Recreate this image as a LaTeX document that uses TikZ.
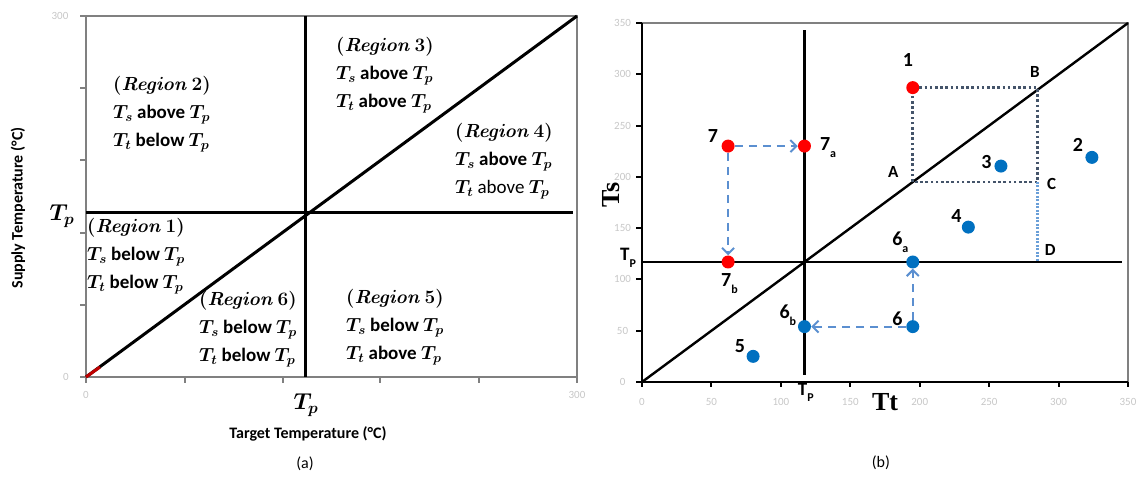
\documentclass[tikz,border=0pt]{standalone}
\usepackage{fix-cm}
\usepackage[no-math]{fontspec}
\setmainfont{Carlito}
\newfontfamily\serifbold{Liberation Serif}
\usetikzlibrary{arrows.meta}
\definecolor{dotblue}{HTML}{0070C0}
\definecolor{dotred}{HTML}{FF0000}
\definecolor{dashblue}{HTML}{5B8FD0}
\definecolor{slateblue}{HTML}{44546A}
\definecolor{lightblue}{HTML}{6A9FD8}
\newcommand\lowsub[1]{\raisebox{-0.35em}{\fontsize{12}{12}\selectfont #1}}
\tikzset{
  frameline/.style={draw=black!50, line width=1.2pt},
  mainline/.style={draw=black, line width=3pt},
  mainlineb/.style={draw=black, line width=2.4pt},
  region/.style={align=left, anchor=west, inner sep=0pt, font=\fontsize{19}{28}\selectfont\bfseries\boldmath},
  bigtp/.style={inner sep=0pt, font=\fontsize{23}{23}\selectfont\boldmath},
  axlabel/.style={inner sep=0pt, font=\fontsize{16}{16}\selectfont\bfseries},
  ticklabel/.style={inner sep=0pt, text=black!22, font=\fontsize{11}{11}\selectfont},
  caption/.style={inner sep=0pt, font=\fontsize{16}{16}\selectfont},
  bluedot/.style={circle, fill=dotblue, inner sep=0pt, minimum size=13pt},
  reddot/.style={circle, fill=dotred, inner sep=0pt, minimum size=13pt},
  ptlabel/.style={inner sep=0pt, font=\fontsize{20}{20}\selectfont\bfseries},
  letlabel/.style={inner sep=0pt, font=\fontsize{17}{17}\selectfont\bfseries},
  dasharrow/.style={draw=dashblue, line width=2pt, dash pattern=on 8pt off 6pt, -{Straight Barb[length=6pt,width=12pt,line width=2pt]}},
  dotbox/.style={draw=slateblue, line width=2.6pt, dash pattern=on 2.6pt off 2.6pt},
  dotlight/.style={draw=lightblue, line width=2.6pt, dash pattern=on 2pt off 1.5pt},
  bigserif/.style={inner sep=0pt, font=\fontsize{26}{26}\selectfont\serifbold\bfseries}
}
\begin{document}
\begin{tikzpicture}[x=1pt,y=-1pt]
\useasboundingbox (0,0) rectangle (1145,478);
% ================= panel (a) =================
\draw[frameline] (86,16) rectangle (577,377);
\foreach \yy in {16,88,160,233,305,377} \draw[frameline] (80,\yy) -- (86,\yy);
\foreach \xx in {86,185,283,380,479,577} \draw[frameline] (\xx,377) -- (\xx,383);
\node[ticklabel] (ay300) at (60,16) {300};
\node[ticklabel] (ay0) at (66,377) {0};
\node[ticklabel] (ax0) at (86,395) {0};
\node[ticklabel] (ax300) at (577,395) {300};
\coordinate (a0) at (86,377);
\coordinate (a1) at (577,16);
\coordinate (ared) at (100,367);
\coordinate (hL) at (86,213);
\coordinate (hR) at (573,213);
\coordinate (vT) at (305,16);
\coordinate (vB) at (305,377);
\draw[mainline] (hL) -- (hR);
\draw[mainline] (vT) -- (vB);
\draw[mainline] (a0) -- (a1);
\draw[draw=red!75!black, line width=3pt] (a0) -- (ared);
\node[region] (r2) at (113,114) {$(\mathit{Region}\,2)$\\$T_s$ above $T_p$\\$T_t$ below $T_p$};
\node[region] (r3) at (336,75) {$(\mathit{Region}\,3)$\\$T_s$ above $T_p$\\$T_t$ above $T_p$};
\node[region] (r4) at (455,161) {$(\mathit{Region}\,4)$\\$T_s$ above $T_p$\\$T_t$ {\mdseries above} $T_p$};
\node[region] (r1) at (87,256) {$(\mathit{Region}\,1)$\\$T_s$ below $T_p$\\$T_t$ below $T_p$};
\node[region] (r6) at (199,329) {$(\mathit{Region}\,6)$\\$T_s$ below $T_p$\\$T_t$ below $T_p$};
\node[region] (r5) at (346,327) {$(\mathit{Region}\,5)$\\$T_s$ below $T_p$\\$T_t$ above $T_p$};
\node[bigtp] (tpa1) at (62,216) {$T_p$};
\node[bigtp] (tpa2) at (306,405) {$T_p$};
\node[axlabel] (axa) at (308,434) {Target Temperature (°C)};
\node[axlabel, rotate=90] (aya) at (18,208) {Supply Temperature (°C)};
\node[caption] (capa) at (305,464) {(a)};
% ================= panel (b) =================
\begin{scope}[shift={(642pt,-382pt)}, x=1.3886pt, y=1.0257pt]
\draw[frameline] (0,0) rectangle (350,350);
\draw[draw=black, line width=2.6pt] (0,350) -- (0,0) -- (350,0);
\foreach \v in {0,50,...,350} {
  \draw[draw=black, line width=2pt] (0,\v) -- (-4.5,\v);
  \draw[draw=black, line width=2pt] (\v,0) -- (\v,-5);
  \node[ticklabel] at (-14,\v) {\v};
  \node[ticklabel] at (\v,-19) {\v};
}
\def\tp{117}
\coordinate (b0) at (0,0);
\coordinate (b1) at (350,350);
\coordinate (bhL) at (0,\tp);
\coordinate (bhR) at (346,\tp);
\coordinate (bvT) at (\tp,343);
\coordinate (bvB) at (\tp,7);
\draw[mainlineb] (bhL) -- (bhR);
\draw[mainlineb] (bvT) -- (bvB);
\draw[mainlineb] (b0) -- (b1);
% dotted box
\coordinate (A) at (195,195);
\coordinate (B) at (285,287);
\coordinate (C) at (285,195);
\coordinate (D) at (285,\tp);
\node[reddot] (p1) at (195,287) {};
\draw[dotbox] (p1) -- (B) -- (C) -- (A) -- (p1);
\draw[dotlight] (C) -- (D);
\node[letlabel] (lA) at (181,205) {A};
\node[letlabel] (lB) at (283,302) {B};
\node[letlabel] (lC) at (295,193) {C};
\node[letlabel] (lD) at (294,129) {D};
% points
\node[bluedot] (p2) at (324,219) {};
\node[bluedot] (p3) at (258.5,210.5) {};
\node[bluedot] (p4) at (235,151) {};
\node[bluedot] (p5) at (80,25) {};
\node[bluedot] (p6) at (195,54) {};
\node[bluedot] (p6a) at (195,\tp) {};
\node[bluedot] (p6b) at (\tp,54) {};
\node[reddot] (p7) at (62,230) {};
\node[reddot] (p7a) at (\tp,230) {};
\node[reddot] (p7b) at (62,\tp) {};
\draw[dasharrow] (p7) -- (p7a);
\draw[dasharrow] (p7) -- (p7b);
\draw[dasharrow] (p6) -- (p6a);
\draw[dasharrow] (p6) -- (p6b);
\node[ptlabel] (l1) at (191.5,314) {1};
\node[ptlabel] (l2) at (314,231) {2};
\node[ptlabel] (l3) at (248,214) {3};
\node[ptlabel] (l4) at (226.5,162) {4};
\node[ptlabel] (l5) at (70.5,35) {5};
\node[ptlabel] (l6) at (184,62) {6};
\node[ptlabel] (l6a) at (186,136) {6\lowsub{a}};
\node[ptlabel] (l6b) at (105,65) {6\lowsub{b}};
\node[ptlabel] (l7) at (51,240) {7};
\node[ptlabel] (l7a) at (134,229) {7\lowsub{a}};
\node[ptlabel] (l7b) at (63,96) {7\lowsub{b}};
\node[letlabel, font=\fontsize{19}{19}\selectfont\bfseries] (tpb1) at (-10,121) {T\lowsub{P}};
\node[letlabel, font=\fontsize{19}{19}\selectfont\bfseries] (tpb2) at (118,-10) {T\lowsub{P}};
\node[bigserif, rotate=90] (lts) at (-22,182) {Ts};
\node[bigserif] (ltt) at (175,-20) {Tt};
\node[caption] (capb) at (172,-79) {(b)};
\end{scope}
\end{tikzpicture}
\end{document}
